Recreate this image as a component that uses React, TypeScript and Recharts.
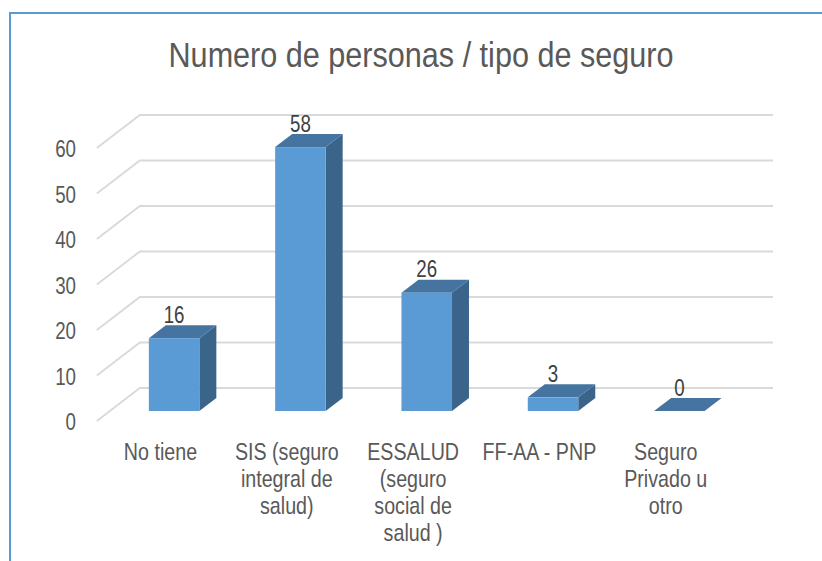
import React from "react";
import { BarChart, Bar, XAxis, YAxis, CartesianGrid, LabelList } from "recharts";

const categories = ["No tiene", "SIS (seguro integral de salud)", "ESSALUD (seguro social de salud )", "FF-AA - PNP", "Seguro Privado u otro"];
const categoryLines = [
  ["No tiene"],
  ["SIS (seguro", "integral de", "salud)"],
  ["ESSALUD", "(seguro", "social de", "salud )"],
  ["FF-AA - PNP"],
  ["Seguro", "Privado u", "otro"],
];
const personas = [16, 58, 26, 3, 0];
const yTicks = [0, 10, 20, 30, 40, 50, 60];
const title = "Numero de personas / tipo de seguro";

const data = categories.map((name, i) => ({ name, personas: personas[i], lines: categoryLines[i] }));

const FONT = "'Liberation Sans', Arial, sans-serif";
const DX = 17;
const DY = 13;

const Narrow = ({ x, y, size, fill, anchor = "middle", sx = 0.82, children }: any) => (
  <text
    transform={`translate(${x} ${y}) scale(${sx} 1)`}
    textAnchor={anchor}
    fontFamily={FONT}
    fontSize={size}
    fill={fill}
  >
    {children}
  </text>
);

const Bar3D = (p: any) => {
  const { x, y, width, height } = p;
  const r = x + width;
  const b = y + height;
  return (
    <g>
      {height > 0 && (
        <polygon points={`${r},${y} ${r + DX},${y - DY} ${r + DX},${b - DY} ${r},${b}`} fill="#3A6489" />
      )}
      <polygon points={`${x},${y} ${x + DX},${y - DY} ${r + DX},${y - DY} ${r},${y}`} fill="#44749F" />
      {height > 0 && <rect x={x} y={y} width={width} height={height} fill="#5B9BD5" />}
    </g>
  );
};

const GridLine = (p: any) => {
  const { x1, x2, y1 } = p;
  return (
    <polyline
      key={p.key ?? y1}
      points={`${x1 - 14},${y1 + 10} ${x1 + 29},${y1 - 23} ${x2 + 30.6},${y1 - 23}`}
      fill="none"
      stroke="#D9D9D9"
      strokeWidth={1.8}
    />
  );
};

const YTick = (p: any) => (
  <Narrow x={76} y={p.y + 19} size={24} sx={0.78} fill="#595959" anchor="end">
    {p.payload.value}
  </Narrow>
);

const XTick = (p: any) => {
  const lines = categoryLines[p.index] ?? [];
  return (
    <g>
      {lines.map((l, i) => (
        <Narrow key={i} x={p.x - 13.5} y={459.5 + i * 27.3} size={24} fill="#595959">
          {l}
        </Narrow>
      ))}
    </g>
  );
};

const ValueLabel = (p: any) => (
  <Narrow x={p.x + p.width / 2} y={p.y - 15.5} size={24} sx={0.78} fill="#404040">
    {p.value}
  </Narrow>
);

export default function App() {
  return (
    <div style={{ position: "absolute", left: 0, top: 0, width: 822, height: 561, background: "#fff", overflow: "hidden" }}>
      <div
        style={{
          position: "absolute",
          left: 9,
          top: 12,
          width: 820,
          height: 560,
          borderTop: "2px solid #5B9BD5",
          borderLeft: "2px solid #5B9BD5",
        }}
      />
      <div style={{ position: "absolute", left: 0, top: 0 }}>
        <BarChart
          width={822}
          height={561}
          data={data}
          margin={{ left: 109.85, right: 79.6, top: 138, bottom: 149 }}
          barSize={50.5}
        >
          <Narrow x={421} y={67} size={36} fill="#595959" sx={0.85}>
            {title}
          </Narrow>
          <CartesianGrid vertical={false} horizontal={GridLine} />
          <XAxis dataKey="name" interval={0} height={1} axisLine={false} tickLine={false} tick={XTick} />
          <YAxis
            domain={[0, 60]}
            ticks={yTicks}
            width={1}
            axisLine={false}
            tickLine={false}
            tick={YTick}
          />
          <Bar dataKey="personas" shape={Bar3D} isAnimationActive={false}>
            <LabelList dataKey="personas" content={ValueLabel} />
          </Bar>
        </BarChart>
      </div>
    </div>
  );
}
